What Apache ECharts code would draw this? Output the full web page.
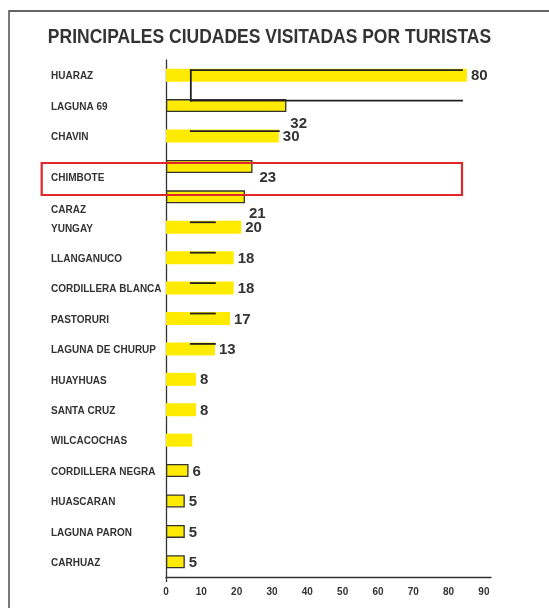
<!DOCTYPE html>
<html lang="es">
<head>
<meta charset="UTF-8">
<title>Principales ciudades visitadas por turistas</title>
<script src="https://cdn.jsdelivr.net/npm/echarts@6/dist/echarts.min.js"></script>
<style>
  html, body { margin: 0; padding: 0; background: #fff; }
  #chart { width: 549px; height: 608px; }
</style>
</head>
<body>
<div id="chart"></div>
<script>
// datos
var ciudades = ['HUARAZ', 'LAGUNA 69', 'CHAVIN', 'CHIMBOTE', 'CARAZ', 'YUNGAY', 'LLANGANUCO',
  'CORDILLERA BLANCA', 'PASTORURI', 'LAGUNA DE CHURUP', 'HUAYHUAS', 'SANTA CRUZ', 'WILCACOCHAS',
  'CORDILLERA NEGRA', 'HUASCARAN', 'LAGUNA PARON', 'CARHUAZ'];
var visitas = [80, 32, 30, 23, 21, 20, 18, 18, 17, 13, 8, 8, 7, 6, 5, 5, 5];
var etiquetas = ['80', '32', '30', '23', '21', '20', '18', '18', '17', '13', '8', '8', '', '6', '5', '5', '5'];
// trazos negros: [ciudad desde, valor desde, ciudad hasta, valor hasta]
var trazos = [
  ['HUARAZ', 78.7, 'HUARAZ', 6.6],
  ['HUARAZ', 6.6, 'LAGUNA 69', 6.6],
  ['LAGUNA 69', 6.6, 'LAGUNA 69', 78.7],
  ['CHAVIN', 6.6, 'CHAVIN', 30],
  ['YUNGAY', 6.6, 'YUNGAY', 13],
  ['LLANGANUCO', 6.6, 'LLANGANUCO', 13],
  ['CORDILLERA BLANCA', 6.6, 'CORDILLERA BLANCA', 13],
  ['PASTORURI', 6.6, 'PASTORURI', 13],
  ['LAGUNA DE CHURUP', 6.6, 'LAGUNA DE CHURUP', 13]
];

// estilos
var conBorde = ['LAGUNA 69', 'CHIMBOTE', 'CARAZ', 'CORDILLERA NEGRA', 'HUASCARAN', 'LAGUNA PARON', 'CARHUAZ'];
var desplazaValor = { 'LAGUNA 69': [0, 18], 'CHIMBOTE': [3, 11], 'CARAZ': [0, 17] };
var desplazaNombre = { 'CHIMBOTE': 23, 'CARAZ': 26 };
var fuente = '"Liberation Sans", Arial, sans-serif';
var tinta = '#333';

var chart = echarts.init(document.getElementById('chart'));

var barras = ciudades.map(function (c, i) {
  var item = { value: visitas[i] };
  if (conBorde.indexOf(c) >= 0) {
    item.itemStyle = { borderColor: tinta, borderWidth: 1.3 };
  }
  if (desplazaValor[c]) {
    item.label = { offset: desplazaValor[c] };
  }
  return item;
});

var letraNombre = { color: tinta, fontFamily: fuente, fontWeight: 'bold', fontSize: 10 };

chart.setOption({
  animation: false,
  grid: { left: 166, right: 58, top: 60, bottom: 31 },
  xAxis: [
    { type: 'value', min: 0, max: 86.4, show: false },
    {
      type: 'value', min: 0, max: 92, interval: 10, position: 'bottom',
      axisLine: { show: true, lineStyle: { color: tinta, width: 1.3 } },
      axisTick: { show: true, customValues: [0], length: 5, lineStyle: { color: tinta, width: 1.3 } },
      splitLine: { show: false },
      axisLabel: {
        showMaxLabel: false, margin: 10, color: tinta,
        fontFamily: fuente, fontWeight: 'bold', fontSize: 10
      }
    }
  ],
  yAxis: {
    type: 'category', inverse: true, data: ciudades,
    axisLine: { show: true, lineStyle: { color: tinta, width: 1.3 } },
    axisTick: { show: false },
    axisLabel: {
      align: 'left', margin: 115, color: tinta,
      fontFamily: fuente, fontWeight: 'bold', fontSize: 10,
      formatter: function (v) {
        return desplazaNombre[v] ? '{bajo' + (v === 'CARAZ' ? '2' : '1') + '|' + v + '}' : '{n|' + v + '}';
      },
      rich: {
        n: Object.assign({ padding: [3, 0, 0, 0] }, letraNombre),
        bajo1: Object.assign({ padding: [desplazaNombre.CHIMBOTE, 0, 0, 0] }, letraNombre),
        bajo2: Object.assign({ padding: [desplazaNombre.CARAZ, 0, 0, 0] }, letraNombre)
      }
    }
  },
  series: [
    {
      type: 'bar', xAxisIndex: 0, data: barras, barWidth: 13,
      itemStyle: { color: '#FFEB00' },
      label: {
        show: true, position: 'right', distance: 4, offset: [0, 1],
        color: tinta, fontFamily: fuente, fontWeight: 'bold', fontSize: 15,
        formatter: function (p) { return etiquetas[p.dataIndex]; }
      },
      z: 2
    },
    {
      type: 'custom', xAxisIndex: 0, silent: true, z: 3,
      encode: { x: [1, 3], y: [0, 2] },
      data: trazos.map(function (t) {
        return [ciudades.indexOf(t[0]), t[1], ciudades.indexOf(t[2]), t[3]];
      }),
      renderItem: function (params, api) {
        var a = api.coord([api.value(1), api.value(0)]);
        var b = api.coord([api.value(3), api.value(2)]);
        return {
          type: 'line',
          shape: { x1: a[0], y1: a[1] - 5, x2: b[0], y2: b[1] - 5 },
          style: { stroke: '#222', lineWidth: 1.8, lineCap: 'square' }
        };
      }
    }
  ],
  graphic: [
    {
      type: 'rect', silent: true, z: 0,
      shape: { x: 9, y: 11, width: 620, height: 660 },
      style: { fill: 'none', stroke: tinta, lineWidth: 1.3 }
    },
    {
      type: 'text', x: 269.5, y: 37, scaleY: 1.15, silent: true,
      style: {
        text: 'PRINCIPALES CIUDADES VISITADAS POR TURISTAS',
        x: 0, y: 0, textAlign: 'center', textVerticalAlign: 'middle',
        font: 'bold 17.5px ' + fuente, fill: tinta
      }
    },
    {
      type: 'rect', silent: true, z: 100,
      shape: { x: 41.7, y: 163, width: 420.3, height: 32 },
      style: { fill: 'none', stroke: '#E3262A', lineWidth: 2.2 }
    }
  ]
});
</script>
</body>
</html>
